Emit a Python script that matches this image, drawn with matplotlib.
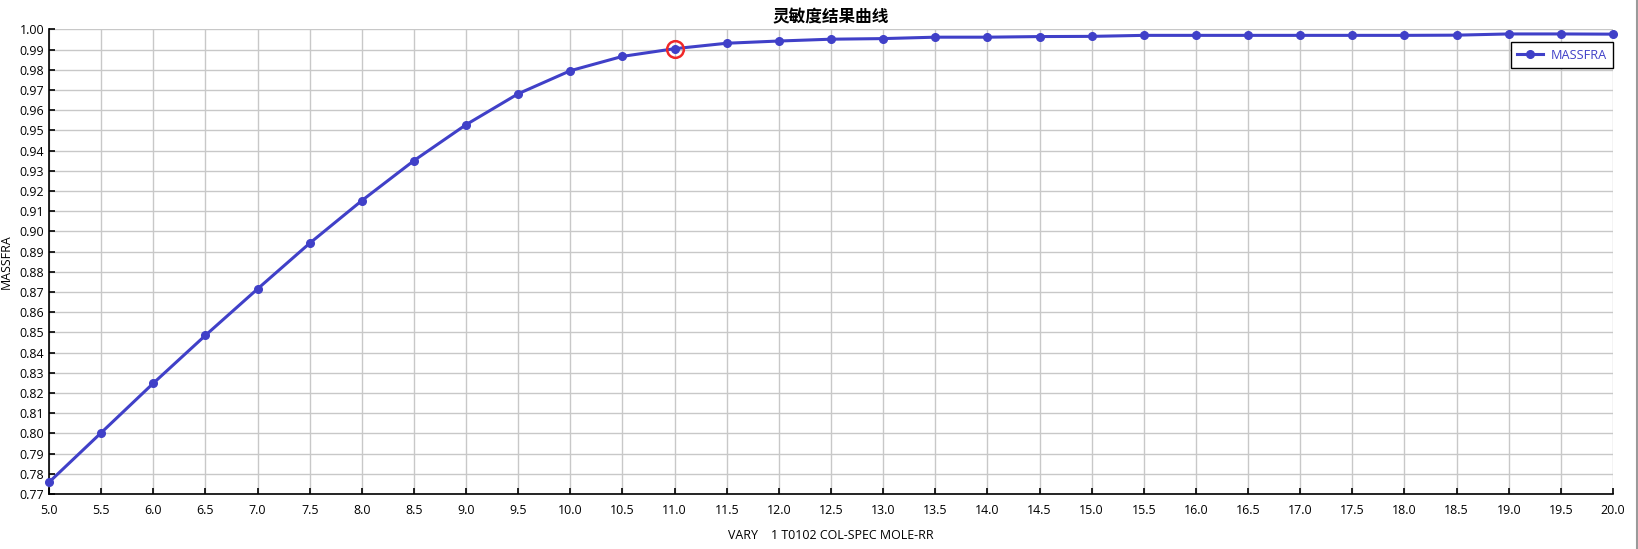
import matplotlib
matplotlib.use("Agg")
import matplotlib.pyplot as plt
from matplotlib.lines import Line2D
import numpy as np

plt.rcParams['font.family'] = ['Open Sans', 'Noto Sans CJK SC', 'DejaVu Sans']

# Data
rr = [5.0, 5.5, 6.0, 6.5, 7.0, 7.5, 8.0, 8.5, 9.0, 9.5, 10.0, 10.5, 11.0,
      11.5, 12.0, 12.5, 13.0, 13.5, 14.0, 14.5, 15.0, 15.5, 16.0, 16.5,
      17.0, 17.5, 18.0, 18.5, 19.0, 19.5, 20.0]
massfra = [0.7758, 0.8003, 0.8248, 0.8485, 0.8715, 0.8941, 0.9152, 0.9350,
           0.9528, 0.9681, 0.9795, 0.9866, 0.9904, 0.9931, 0.9942, 0.9951,
           0.9954, 0.9961, 0.9961, 0.9964, 0.9965, 0.9970, 0.9970, 0.9970,
           0.9970, 0.9970, 0.9970, 0.9971, 0.9977, 0.9977, 0.9976]
highlight_x = [11.0]
highlight_y = [0.9904]

x_ticks = [5.0 + 0.5 * i for i in range(31)]
y_ticks = [0.77 + 0.01 * i for i in range(24)]

title = "灵敏度结果曲线"
xlabel = "VARY    1 T0102 COL-SPEC MOLE-RR"
ylabel = "MASSFRA"
series_name = "MASSFRA"

W, H = 1638, 549
fig = plt.figure(figsize=(W / 100, H / 100), dpi=100)
ax = fig.add_axes([49 / W, 1 - 494 / H, (1613 - 49) / W, (494 - 29.3) / H])

line_color = '#4040C8'
ax.plot(rr, massfra, color=line_color, lw=2.2, marker='o', ms=5.5,
        label=series_name, zorder=3, clip_on=False)
ax.plot(highlight_x, highlight_y, linestyle='none', marker='o', ms=12,
        mfc='none', mec='#F02828', mew=1.8, zorder=4)

ax.set_xlim(5.0, 20.0)
ax.set_ylim(0.77, 1.00)
ax.set_xticks(x_ticks)
ax.set_xticklabels([f"{v:.1f}" for v in x_ticks])
ax.set_yticks(y_ticks)
ax.set_yticklabels([f"{v:.2f}" for v in y_ticks])

ax.grid(True, color='#C8C8C8', lw=1.0)
ax.set_axisbelow(True)
for s in ['top', 'right']:
    ax.spines[s].set_visible(False)
for s in ['left', 'bottom']:
    ax.spines[s].set_color('black')
    ax.spines[s].set_linewidth(1.2)

ax.tick_params(axis='both', direction='in', length=4, width=1.2, colors='black',
               labelsize=8.9)
ax.tick_params(axis='y', pad=3.5)
ax.tick_params(axis='x', pad=7.5)

ax.set_title(title, fontsize=12, fontweight='bold', pad=5,
             family=['Noto Sans CJK SC', 'DejaVu Sans'])
ax.set_xlabel(xlabel, fontsize=8.9, labelpad=8)
ax.set_ylabel(ylabel, fontsize=8.9, labelpad=5)

leg = ax.legend(loc='upper right', bbox_to_anchor=(1.0, 1 - 13 / 464.7),
                frameon=True, fancybox=False, shadow=False, framealpha=1.0,
                fontsize=9.2, borderaxespad=0,
                handlelength=2.0, handletextpad=0.6, borderpad=0.5)
leg.get_frame().set_edgecolor('black')
leg.get_frame().set_linewidth(1.0)
for t in leg.get_texts():
    t.set_color(line_color)

# right window border
fig.add_artist(Line2D([1636.5 / W, 1636.5 / W], [0, 1], color='#9A9A9A', lw=1.5,
                      transform=fig.transFigure))

fig.savefig("out.png", dpi=100)
